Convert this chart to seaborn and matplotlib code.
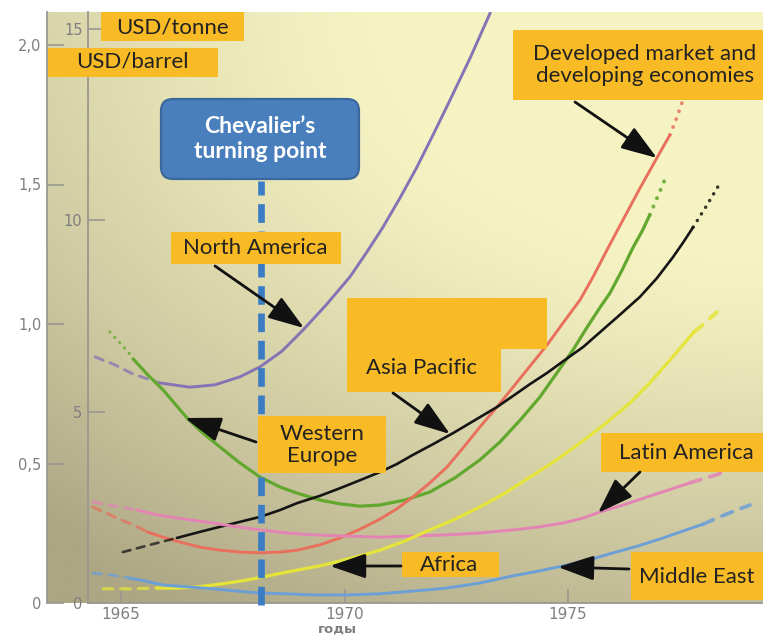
import numpy as np
import pandas as pd
import matplotlib
matplotlib.use("Agg")
import matplotlib.pyplot as plt
import seaborn as sns
from matplotlib.patches import Rectangle, FancyBboxPatch
from matplotlib.colors import to_rgb

# ---------------- data (years, USD/tonne) ----------------
NA_YEARS = [1964.42, 1964.87, 1965.27, 1965.87, 1966.54, 1967.10, 1967.66, 1968.11, 1968.60, 1969.07,
            1969.59, 1970.12, 1970.50, 1970.86, 1971.24, 1971.62, 1971.98, 1972.36, 1972.81, 1973.26]
NA_VALUES = [6.43, 6.22, 5.98, 5.75, 5.64, 5.70, 5.91, 6.17, 6.58, 7.13,
             7.79, 8.52, 9.17, 9.82, 10.58, 11.39, 12.23, 13.14, 14.24, 15.42]

WE_YEARS = [1964.75, 1964.98, 1965.16, 1965.27, 1965.60, 1965.94, 1966.21, 1966.48, 1966.83, 1967.21,
            1967.66, 1968.11, 1968.56, 1968.94, 1969.45, 1969.90, 1970.35, 1970.79, 1971.35, 1971.91,
            1972.47, 1973.03, 1973.48, 1973.93, 1974.37, 1974.75, 1975.11, 1975.43, 1975.72, 1975.94,
            1976.21, 1976.45, 1976.66, 1976.83, 1977.01, 1977.21]
WE_VALUES = [7.08, 6.79, 6.56, 6.38, 5.96, 5.57, 5.20, 4.83, 4.44, 4.08,
             3.66, 3.29, 3.03, 2.87, 2.69, 2.59, 2.53, 2.56, 2.69, 2.90,
             3.27, 3.74, 4.21, 4.78, 5.38, 6.01, 6.61, 7.21, 7.73, 8.10,
             8.70, 9.28, 9.72, 10.14, 10.63, 11.18]

DEV_YEARS = [1964.37, 1964.91, 1965.43, 1965.58, 1965.94, 1966.32, 1966.77, 1967.21, 1967.66, 1968.11,
             1968.56, 1968.94, 1969.45, 1969.90, 1970.35, 1970.79, 1971.17, 1971.53, 1971.91, 1972.29,
             1972.65, 1973.03, 1973.41, 1973.77, 1974.15, 1974.53, 1974.89, 1975.27, 1975.56, 1975.87,
             1976.23, 1976.61, 1976.95, 1977.28, 1977.44, 1977.57]
DEV_VALUES = [2.51, 2.22, 1.96, 1.86, 1.72, 1.59, 1.46, 1.38, 1.33, 1.31,
              1.33, 1.38, 1.52, 1.70, 1.93, 2.19, 2.46, 2.77, 3.14, 3.55,
              4.05, 4.60, 5.12, 5.64, 6.19, 6.74, 7.32, 7.92, 8.52, 9.22,
              10.01, 10.84, 11.55, 12.23, 12.70, 13.14]

AP_YEARS = [1965.04, 1965.65, 1966.25, 1966.77, 1967.21, 1967.66, 1968.11, 1968.56, 1968.94, 1969.45,
            1969.90, 1970.35, 1970.79, 1971.17, 1971.53, 1971.98, 1972.43, 1972.92, 1973.41, 1973.77,
            1974.15, 1974.53, 1974.93, 1975.34, 1975.72, 1976.16, 1976.61, 1976.99, 1977.35, 1977.57,
            1977.80, 1978.11, 1978.40]
AP_VALUES = [1.33, 1.52, 1.70, 1.86, 1.99, 2.12, 2.25, 2.43, 2.61, 2.80,
             3.00, 3.21, 3.42, 3.63, 3.87, 4.15, 4.44, 4.78, 5.12, 5.41,
             5.72, 6.01, 6.35, 6.69, 7.08, 7.53, 8.00, 8.49, 9.04, 9.41,
             9.82, 10.40, 10.97]

LA_YEARS = [1964.37, 1964.87, 1965.36, 1965.81, 1966.43, 1967.06, 1967.60, 1968.11, 1968.71, 1969.30,
            1970.06, 1970.79, 1971.53, 1972.29, 1973.03, 1973.77, 1974.37, 1974.89, 1975.34, 1975.72,
            1976.23, 1976.77, 1977.24, 1977.73, 1978.29, 1978.85]
LA_VALUES = [2.64, 2.53, 2.43, 2.30, 2.19, 2.09, 1.99, 1.91, 1.83, 1.78,
             1.75, 1.72, 1.75, 1.78, 1.83, 1.91, 1.99, 2.09, 2.22, 2.38,
             2.56, 2.77, 2.95, 3.14, 3.34, 3.58]

AF_YEARS = [1964.60, 1965.20, 1965.81, 1966.25, 1966.70, 1967.26, 1967.82, 1968.38, 1968.94, 1969.45,
            1969.90, 1970.35, 1970.79, 1971.35, 1971.91, 1972.47, 1973.03, 1973.59, 1974.15, 1974.71,
            1975.27, 1975.83, 1976.39, 1976.83, 1977.28, 1977.57, 1977.80, 1978.07, 1978.33]
AF_VALUES = [0.37, 0.37, 0.39, 0.39, 0.42, 0.50, 0.60, 0.73, 0.86, 0.97,
             1.10, 1.23, 1.38, 1.62, 1.91, 2.19, 2.51, 2.87, 3.29, 3.71,
             4.18, 4.68, 5.23, 5.75, 6.35, 6.74, 7.06, 7.32, 7.60]

ME_YEARS = [1964.37, 1964.80, 1965.20, 1965.56, 1965.94, 1966.50, 1967.06, 1967.60, 1968.11, 1968.71,
            1969.30, 1970.06, 1970.79, 1971.53, 1972.29, 1973.03, 1973.77, 1974.37, 1974.89, 1975.45,
            1976.01, 1976.57, 1977.13, 1977.57, 1978.02, 1978.56, 1979.07]
ME_VALUES = [0.78, 0.73, 0.65, 0.57, 0.47, 0.42, 0.37, 0.31, 0.26, 0.24,
             0.21, 0.21, 0.24, 0.31, 0.39, 0.52, 0.71, 0.84, 0.97, 1.12,
             1.31, 1.49, 1.70, 1.88, 2.06, 2.33, 2.56]

CHEVALIER_YEAR = 1968.13

X_TICKS = [1965, 1970, 1975]
TONNE_TICKS = [0, 5, 10, 15]
BARREL_TICKS = [0, 0.5, 1.0, 1.5, 2.0]
BARREL_LABELS = ["0", "0,5", "1,0", "1,5", "2,0"]

# ---------------- styles ----------------
# name: (years, values, color, lw, solid_start_idx, solid_end_idx, head_ls, tail_ls)
DOT = (0, (0.05, 2.2))
DASH = (0, (3, 2.5))
SERIES = {
    "North America": (NA_YEARS, NA_VALUES, "#8474b6", 2.1, 3, None, DASH, None),
    "Western Europe": (WE_YEARS, WE_VALUES, "#62a82e", 2.3, 3, 33, DOT, DOT),
    "Developed": (DEV_YEARS, DEV_VALUES, "#e8705c", 2.1, 3, 33, DASH, DOT),
    "Asia Pacific": (AP_YEARS, AP_VALUES, "#151515", 1.9, 2, 30, DASH, DOT),
    "Latin America": (LA_YEARS, LA_VALUES, "#e384b5", 2.1, 2, 23, DASH, DASH),
    "Africa": (AF_YEARS, AF_VALUES, "#e4e43a", 2.3, 2, 26, DASH, DASH),
    "Middle East": (ME_YEARS, ME_VALUES, "#6c9fd6", 2.1, 2, 24, DASH, DASH),
}

sns.set_theme(style="white")
plt.rcParams['font.family'] = ['Lato', 'DejaVu Sans']

W, H = 763, 635
fig = plt.figure(figsize=(W / 100, H / 100), dpi=100)
fig.patch.set_facecolor("white")


def fr(x0, y0, x1, y1):
    return [x0 / W, 1 - y1 / H, (x1 - x0) / W, (y1 - y0) / H]


# background gradient
bg = fig.add_axes(fr(47, 12, 763, 603), zorder=0)
ny, nx = 300, 360
u = np.linspace(0, 1, nx)[None, :]
v = np.linspace(1, 0, ny)[:, None]
d = np.sqrt(((1 - u) * 1.0) ** 2 + ((1 - v) * 1.3) ** 2)
t = np.clip((d - 0.55) / 1.0, 0, 1) ** 1.2
strip = (u < (88 - 47) / (763 - 47)).astype(float) * 0.06 * (1 - v)
t = np.clip(t + strip, 0, 1)
light = np.array(to_rgb('#f6f3c3'))
dark = np.array(to_rgb('#aca684'))
img = light * (1 - t[..., None]) + dark * t[..., None]
bg.imshow(img, aspect='auto', extent=[0, 1, 0, 1])
bg.axis('off')

AXC = "#9a9890"
LBLC = "#7e7e7e"

# outer (USD/barrel) axis
ax2 = fig.add_axes(fr(47, 12, 60, 603), zorder=1)
ax2.patch.set_alpha(0)
ax2.set_ylim(0, 591 / 279)
ax2.set_xticks([])
for s in ["top", "right", "bottom"]:
    ax2.spines[s].set_visible(False)
ax2.spines["left"].set_color(AXC)
ax2.spines["left"].set_linewidth(1.3)
ax2.set_yticks(BARREL_TICKS)
ax2.set_yticklabels(BARREL_LABELS, family="DejaVu Sans")
ax2.tick_params(axis='y', direction='in', length=12, width=1.2, color=AXC,
                labelcolor=LBLC, labelsize=10.5, pad=4, left=True)

# main axis (USD/tonne)
ax = fig.add_axes(fr(88, 12, 763, 603), zorder=2)
ax.patch.set_alpha(0)

for name, (yrs, vals, col, lw, i0, i1, hls, tls) in SERIES.items():
    n = len(yrs)
    end = n - 1 if i1 is None else i1
    df = pd.DataFrame({"year": yrs, "value": vals})
    solid = df.iloc[i0:end + 1]
    sns.lineplot(data=solid, x="year", y="value", ax=ax, color=col, lw=lw,
                 sort=False, estimator=None, solid_capstyle="round", solid_joinstyle="round")
    if i0 > 0:
        head = df.iloc[0:i0 + 1]
        sns.lineplot(data=head, x="year", y="value", ax=ax, color=col, lw=lw,
                     sort=False, estimator=None, linestyle=hls, alpha=0.75,
                     dash_capstyle="round")
    if i1 is not None and i1 < n - 1:
        tail = df.iloc[i1:]
        sns.lineplot(data=tail, x="year", y="value", ax=ax, color=col, lw=lw + 0.6,
                     sort=False, estimator=None, linestyle=tls, alpha=0.85,
                     dash_capstyle="round")

ax.set_xlim(1965 - 33 / 44.7, 1965 + 642 / 44.7)
ax.set_ylim(0, 591 / 38.27)
ax.set_xlabel("")
ax.set_ylabel("")
for s in ["top", "right"]:
    ax.spines[s].set_visible(False)
for s in ["left", "bottom"]:
    ax.spines[s].set_color(AXC)
    ax.spines[s].set_linewidth(1.3)
ax.set_xticks(X_TICKS)
ax.set_yticks(TONNE_TICKS)
ax.set_xticklabels([str(x) for x in X_TICKS], family="DejaVu Sans")
ax.set_yticklabels([str(y) for y in TONNE_TICKS], family="DejaVu Sans")
ax.tick_params(axis='both', direction='in', length=12, width=1.2, color=AXC,
               labelcolor=LBLC, labelsize=10.5, pad=4, left=True, bottom=True)
ax.tick_params(axis='x', length=10, labelsize=11, pad=3)

# Chevalier's turning point line
ax.plot([CHEVALIER_YEAR, CHEVALIER_YEAR], [-0.05, (603 - 181) / 38.27], color="#3b7dc4",
        lw=4.8, linestyle=(0, (2.8, 1.3)), zorder=10, clip_on=False)

# overlay for labels/arrows (pixel coordinates, origin top-left)
ov = fig.add_axes([0, 0, 1, 1], zorder=5)
ov.set_xlim(0, W)
ov.set_ylim(H, 0)
ov.axis('off')
ov.patch.set_alpha(0)

ORANGE = "#f9bb25"
TXT = "#222222"
FS = 16


def obox(x0, y0, x1, y1):
    ov.add_patch(Rectangle((x0, y0), x1 - x0, y1 - y0, facecolor=ORANGE, edgecolor="none"))


def otext(x, y, s, **kw):
    ov.text(x, y, s, ha="center", va="center", color=TXT, fontsize=FS, linespacing=1.15, **kw)


obox(101, 12, 244, 41); otext(172, 27, "USD/tonne")
obox(48, 48, 218, 77); otext(132, 62, "USD/barrel")
ov.add_patch(FancyBboxPatch((161, 99), 198, 80, boxstyle="round,pad=0,rounding_size=12",
                            facecolor="#4a7fbd", edgecolor="#3a689c", lw=1.6))
ov.text(260, 139, "Chevalier\u2019s\nturning point", ha="center", va="center", color="white",
        fontsize=16.5, fontweight="bold", linespacing=1.25)
obox(171, 232, 341, 264); otext(255, 248, "North America")
obox(258, 416, 386, 473); otext(322, 445, "Western\nEurope")
obox(347, 298, 547, 349)
obox(347, 349, 501, 392); otext(422, 368, "Asia Pacific")
obox(513, 30, 763, 100); otext(645, 65, "Developed market and\ndeveloping economies")
obox(601, 433, 763, 472); otext(686, 453, "Latin America")
obox(402, 552, 499, 577); otext(449, 565, "Africa")
obox(631, 552, 763, 600); otext(697, 577, "Middle East")

ARROWS = [((215, 266), (304, 328)),
          ((256, 442), (185, 418)),
          ((393, 393), (450, 434)),
          ((575, 102), (657, 158)),
          ((640, 472), (598, 513)),
          ((401, 566), (330, 566)),
          ((629, 569), (558, 567))]
for (tx, ty), (hx, hy) in ARROWS:
    ov.annotate("", xy=(hx, hy), xytext=(tx, ty),
                arrowprops=dict(arrowstyle="-|>,head_length=1.1,head_width=0.38",
                                color="#111111", lw=2.0, mutation_scale=20,
                                shrinkA=0, shrinkB=0))

ov.text(337, 629, "годы", ha="center", va="center", color=LBLC, fontsize=9.5,
        fontweight="bold", family="DejaVu Sans")

fig.savefig("out.png", dpi=100, facecolor="white")
